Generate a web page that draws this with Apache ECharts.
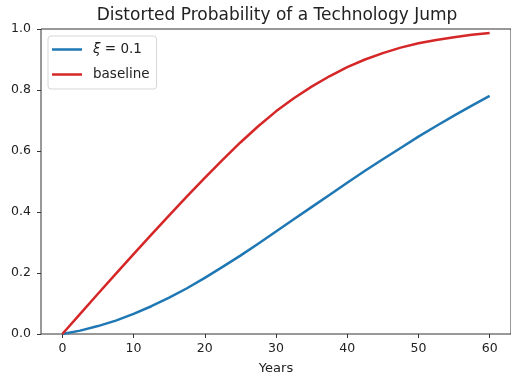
<!DOCTYPE html>
<html>
<head>
<meta charset="utf-8">
<script src="https://cdn.jsdelivr.net/npm/echarts@6/dist/echarts.min.js"></script>
<style>
  html, body { margin: 0; padding: 0; background: #fff; }
  #chart { width: 511px; height: 381px; }
</style>
</head>
<body>
<div id="chart"></div>
<script>
// Years sampled every 2.5
var years = [0, 2.5, 5, 7.5, 10, 12.5, 15, 17.5, 20, 22.5, 25, 27.5, 30,
             32.5, 35, 37.5, 40, 42.5, 45, 47.5, 50, 52.5, 55, 57.5, 60];

// Distorted probability with xi = 0.1
var xiValues = [0.000, 0.011, 0.026, 0.044, 0.066, 0.091, 0.119, 0.150, 0.184,
                0.220, 0.257, 0.296, 0.336, 0.376, 0.416, 0.456, 0.496, 0.535,
                0.573, 0.610, 0.647, 0.682, 0.716, 0.749, 0.781];

// Baseline probability
var baselineValues = [0.000, 0.066, 0.132, 0.197, 0.262, 0.326, 0.389, 0.451, 0.512,
                      0.571, 0.628, 0.681, 0.730, 0.773, 0.811, 0.845, 0.875, 0.900,
                      0.921, 0.939, 0.953, 0.964, 0.973, 0.981, 0.987];

var xTicks = [0, 10, 20, 30, 40, 50, 60];
var yTicks = [0, 0.2, 0.4, 0.6, 0.8, 1.0];

var xiLabel = '{i|ξ} = 0.1';
var baseLabel = 'baseline';

function pairs(xs, ys) {
  return xs.map(function (x, i) { return [x, ys[i]]; });
}

var FONT = 'DejaVu Sans';
var INK = '#222';
var chart = echarts.init(document.getElementById('chart'), null, { renderer: 'canvas' });

chart.setOption({
  animation: false,
  backgroundColor: '#ffffff',
  title: {
    text: 'Distorted Probability of a Technology Jump',
    left: 272,
    textAlign: 'center',
    top: 2,
    textStyle: { fontFamily: FONT, fontSize: 17, fontWeight: 'normal', color: INK }
  },
  grid: {
    left: 41, top: 29, width: 471, height: 305,
    show: true, borderColor: '#333', borderWidth: 1, backgroundColor: 'transparent'
  },
  legend: {
    orient: 'vertical',
    left: 48, top: 36,
    padding: [6, 7, 7, 4],
    itemGap: 10,
    itemWidth: 30, itemHeight: 2.5,
    icon: 'rect',
    backgroundColor: 'rgba(255,255,255,0.8)',
    borderColor: '#d6d6d6', borderWidth: 1, borderRadius: 3,
    textStyle: {
      fontFamily: FONT, fontSize: 13.5, color: INK, lineHeight: 15, padding: [0, 0, 0, 6],
      rich: { i: { fontFamily: FONT, fontStyle: 'italic', fontSize: 13.5, color: INK } }
    },
    data: [xiLabel, baseLabel]
  },
  xAxis: {
    type: 'value',
    min: -3, max: 63,
    name: 'Years',
    nameLocation: 'middle',
    nameGap: 28,
    nameTextStyle: { fontFamily: FONT, fontSize: 13, color: INK },
    axisLine: { show: false, onZero: false },
    axisTick: { show: true, length: 4, lineStyle: { color: '#333' }, customValues: xTicks },
    axisLabel: { fontFamily: FONT, fontSize: 12.5, color: INK, margin: 8, customValues: xTicks,
                 formatter: function (v) { return String(v); } },
    splitLine: { show: false }
  },
  yAxis: {
    type: 'value',
    min: 0, max: 1, interval: 0.2,
    axisLine: { show: false, onZero: false },
    axisTick: { show: true, length: 4, lineStyle: { color: '#333' }, customValues: yTicks },
    axisLabel: { fontFamily: FONT, fontSize: 12.5, color: INK, margin: 10, customValues: yTicks,
                 formatter: function (v) { return v.toFixed(1); } },
    splitLine: { show: false }
  },
  series: [
    {
      name: xiLabel, type: 'line', data: pairs(years, xiValues),
      smooth: false, showSymbol: false, symbol: 'none',
      lineStyle: { color: '#1f77b4', width: 2.5, join: 'round' }, itemStyle: { color: '#1f77b4' }
    },
    {
      name: baseLabel, type: 'line', data: pairs(years, baselineValues),
      smooth: false, showSymbol: false, symbol: 'none',
      lineStyle: { color: '#d62728', width: 2.5, join: 'round' }, itemStyle: { color: '#d62728' }
    }
  ]
});
</script>
</body>
</html>
